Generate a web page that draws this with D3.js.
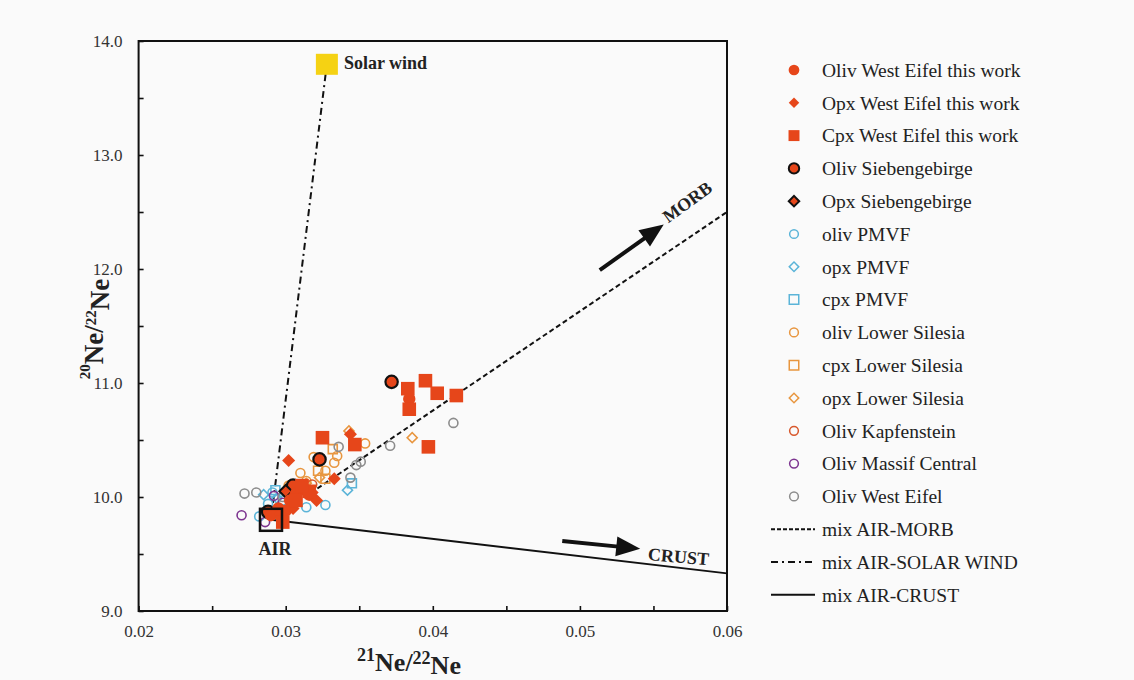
<!DOCTYPE html>
<html>
<head>
<meta charset="utf-8">
<script src="https://cdn.jsdelivr.net/npm/d3@7"></script>
<style>
  html, body { margin: 0; padding: 0; background: #fafafa; }
  svg { display: block; }
  text { font-family: "Liberation Serif", "Times New Roman", serif; }
</style>
</head>
<body>
<svg id="chart" width="1134" height="680"></svg>
<script>
// ---------- DATA ----------
const xTicks = [0.02, 0.025, 0.03, 0.035, 0.04, 0.045, 0.05, 0.055, 0.06];
const yTicks = [9, 9.5, 10, 10.5, 11, 11.5, 12, 12.5, 13, 13.5, 14];

const olivWestEifelThisWork = [[0.0384,10.86],[0.0303,9.97],[0.0300,9.88],[0.0307,10.03],[0.0312,10.07],[0.0295,9.90],[0.0290,9.84],[0.0316,10.02]];
const opxWestEifelThisWork  = [[0.0302,10.32],[0.0333,10.16],[0.0321,9.97],[0.0344,10.55],[0.0305,9.90],[0.0296,9.85],[0.0311,10.08],[0.0318,10.04]];
const cpxWestEifelThisWork  = [[0.0325,10.52],[0.0347,10.46],[0.0383,10.95],[0.0395,11.02],[0.0403,10.91],[0.0416,10.89],[0.0384,10.77],[0.0397,10.44],[0.0316,10.05],[0.0307,9.97],[0.0298,9.78],[0.0311,10.10]];
const olivSiebengebirge     = [[0.0372,11.01],[0.0323,10.33],[0.0305,10.10],[0.0288,9.87]];
const opxSiebengebirge      = [[0.0300,10.05]];
const olivPMVF              = [[0.0282,9.83],[0.0291,10.04],[0.0314,9.91],[0.0327,9.93],[0.0298,9.97],[0.0288,9.94]];
const opxPMVF               = [[0.0342,10.06],[0.0294,9.99],[0.0285,10.02]];
const cpxPMVF               = [[0.0345,10.12],[0.0293,10.06]];
const olivLowerSilesia      = [[0.0319,10.35],[0.0333,10.30],[0.0354,10.47],[0.0314,10.14],[0.0327,10.23],[0.0302,10.10],[0.0310,10.21],[0.0335,10.36]];
const cpxLowerSilesia       = [[0.0332,10.42],[0.0322,10.23],[0.0327,10.16],[0.0310,10.07]];
const opxLowerSilesia       = [[0.0343,10.58],[0.0386,10.52],[0.0323,10.17],[0.0314,10.12]];
const olivKapfenstein       = [[0.0307,10.00],[0.0302,10.05],[0.0318,10.11]];
const olivMassifCentral     = [[0.0270,9.84],[0.0286,9.78],[0.0292,10.01],[0.0298,9.95]];
const olivWestEifel         = [[0.0272,10.03],[0.0280,10.04],[0.0336,10.44],[0.0348,10.28],[0.0351,10.31],[0.0344,10.17],[0.0371,10.45],[0.0414,10.65],[0.0302,10.03],[0.0315,10.03],[0.0298,10.00]];

const airPoint   = [0.029, 9.8];
const solarWind  = [0.0328, 13.8];
const mixMORB    = [airPoint, [0.06, 12.5]];
const mixSolar   = [airPoint, solarWind];
const mixCrust   = [airPoint, [0.06, 9.33]];
const arrowMORB  = [[0.05135, 11.99], [0.0557, 12.39]];
const arrowCrust = [[0.0488, 9.615], [0.0541, 9.545]];
const morbLabelPos  = [0.0560, 12.40];
const crustLabelPos = [0.0546, 9.447];

const legendLabels = [
  "Oliv West Eifel this work","Opx West Eifel this work","Cpx West Eifel this work",
  "Oliv Siebengebirge","Opx Siebengebirge","oliv PMVF","opx PMVF","cpx PMVF",
  "oliv Lower Silesia","cpx Lower Silesia","opx Lower Silesia","Oliv Kapfenstein",
  "Oliv Massif Central","Oliv West Eifel","mix AIR-MORB","mix AIR-SOLAR WIND","mix AIR-CRUST"
];

// ---------- STYLES ----------
const RED = "#e6461a", BLUE = "#5bb4d8", ORANGE = "#e8963f", KAPF = "#d8582c", PURPLE = "#7d3590", GRAY = "#8c8c8c";

const series = [
  {data: olivLowerSilesia, shape: "circle", fill: "none", stroke: ORANGE, sw: 1.6, size: 64, lsize: 60},
  {data: cpxLowerSilesia, shape: "square", fill: "none", stroke: ORANGE, sw: 1.6, size: 80, lsize: 90},
  {data: opxLowerSilesia, shape: "diamond", fill: "none", stroke: ORANGE, sw: 1.6, size: 50, lsize: 45},
  {data: olivPMVF, shape: "circle", fill: "none", stroke: BLUE, sw: 1.6, size: 64, lsize: 60},
  {data: opxPMVF, shape: "diamond", fill: "none", stroke: BLUE, sw: 1.6, size: 50, lsize: 45},
  {data: cpxPMVF, shape: "square", fill: "none", stroke: BLUE, sw: 1.6, size: 80, lsize: 90},
  {data: olivKapfenstein, shape: "circle", fill: "none", stroke: KAPF, sw: 1.6, size: 64, lsize: 60},
  {data: olivMassifCentral, shape: "circle", fill: "none", stroke: PURPLE, sw: 1.6, size: 64, lsize: 60},
  {data: olivWestEifel, shape: "circle", fill: "none", stroke: GRAY, sw: 1.6, size: 64, lsize: 60},
  {data: olivSiebengebirge, shape: "circle", fill: RED, stroke: "#111", sw: 2.2, size: 120, lsize: 85},
  {data: opxSiebengebirge, shape: "diamond", fill: RED, stroke: "#111", sw: 2, size: 80, lsize: 55},
  {data: olivWestEifelThisWork, shape: "circle", fill: RED, stroke: "none", sw: 0, size: 120, lsize: 90},
  {data: opxWestEifelThisWork, shape: "diamond", fill: RED, stroke: "none", sw: 0, size: 85, lsize: 55},
  {data: cpxWestEifelThisWork, shape: "square", fill: RED, stroke: "none", sw: 0, size: 185, lsize: 120}
];
// legend order mapping to series index
const legendSeries = [11, 12, 13, 9, 10, 3, 4, 5, 0, 1, 2, 6, 7, 8];

// ---------- SCALES ----------
const svg = d3.select("#chart");
const M = {left: 138.6, right: 727, top: 41, bottom: 611};
const x = d3.scaleLinear().domain([0.02, 0.06]).range([M.left, M.right]);
const y = d3.scaleLinear().domain([9, 14]).range([M.bottom, M.top]);

svg.append("rect").attr("width", 1134).attr("height", 680).attr("fill", "#fafafa");

function symPath(shape, size) {
  if (shape === "circle") return d3.symbol(d3.symbolCircle, size)();
  return d3.symbol(d3.symbolSquare, size)();
}
function symTransform(shape, px, py) {
  return `translate(${px},${py})` + (shape === "diamond" ? " rotate(45)" : "");
}

// ---------- AXES ----------
const xAxis = d3.axisBottom(x).tickValues(xTicks).tickSizeInner(-5).tickSizeOuter(0).tickPadding(14)
  .tickFormat(d => (Math.round(d * 1000) % 10 === 0) ? d3.format(".2f")(d) : "");
const yAxis = d3.axisLeft(y).tickValues(yTicks).tickSizeInner(-5).tickSizeOuter(0).tickPadding(16)
  .tickFormat(d => Number.isInteger(d) ? d3.format(".1f")(d) : "");

const gx = svg.append("g").attr("transform", `translate(0,${M.bottom})`).call(xAxis);
const gy = svg.append("g").attr("transform", `translate(${M.left},0)`).call(yAxis);
[gx, gy].forEach(g => {
  g.select(".domain").remove();
  g.selectAll(".tick line").attr("stroke", "#111").attr("stroke-width", 1.6);
  g.selectAll(".tick text").attr("fill", "#333").style("font-size", "17px")
    .style("font-family", '"Liberation Serif", serif');
});

// frame
svg.append("rect").attr("x", M.left).attr("y", M.top)
  .attr("width", M.right - M.left).attr("height", M.bottom - M.top)
  .attr("fill", "none").attr("stroke", "#111").attr("stroke-width", 2);

// axis titles
const yt = svg.append("text").attr("transform", `translate(97,329) rotate(-90)`)
  .attr("text-anchor", "middle").style("font-size", "27px").style("font-weight", "bold").attr("fill", "#222");
yt.append("tspan").text("20").attr("dy", "-0.5em").style("font-size", "15px");
yt.append("tspan").text("Ne/").attr("dy", "0.5em");
yt.append("tspan").text("22").attr("dy", "-0.5em").style("font-size", "15px");
yt.append("tspan").text("Ne").attr("dy", "0.5em");

const xt = svg.append("text").attr("x", 409).attr("y", 668)
  .attr("text-anchor", "middle").style("font-size", "26px").style("font-weight", "bold").attr("fill", "#222");
xt.append("tspan").text("21").attr("dy", "-0.4em").style("font-size", "18px");
xt.append("tspan").text("Ne/").attr("dy", "0.4em");
xt.append("tspan").text("22").attr("dy", "-0.4em").style("font-size", "18px");
xt.append("tspan").text("Ne").attr("dy", "0.4em");

// ---------- MIXING LINES ----------
const line = d3.line().x(d => x(d[0])).y(d => y(d[1]));
const plot = svg.append("g");
plot.append("path").datum(mixMORB).attr("d", line).attr("fill", "none")
  .attr("stroke", "#111").attr("stroke-width", 2).attr("stroke-dasharray", "5,3");
plot.append("path").datum(mixSolar).attr("d", line).attr("fill", "none")
  .attr("stroke", "#111").attr("stroke-width", 2).attr("stroke-dasharray", "7,4,2,4");
plot.append("path").datum(mixCrust).attr("d", line).attr("fill", "none")
  .attr("stroke", "#111").attr("stroke-width", 2);

// arrows
function arrow(pts) {
  const x0 = x(pts[0][0]), y0 = y(pts[0][1]), x1 = x(pts[1][0]), y1 = y(pts[1][1]);
  const a = Math.atan2(y1 - y0, x1 - x0);
  const hl = 24, hw = 10;
  const bx = x1 - hl * Math.cos(a), by = y1 - hl * Math.sin(a);
  plot.append("line").attr("x1", x0).attr("y1", y0).attr("x2", bx + 2 * Math.cos(a)).attr("y2", by + 2 * Math.sin(a))
    .attr("stroke", "#111").attr("stroke-width", 4);
  const px = -Math.sin(a), py = Math.cos(a);
  plot.append("path").attr("d", `M${x1},${y1}L${bx + hw * px},${by + hw * py}L${bx - hw * px},${by - hw * py}Z`)
    .attr("fill", "#111");
}
arrow(arrowMORB);
arrow(arrowCrust);

// ---------- POINTS ----------
series.forEach(s => {
  plot.append("g").selectAll("path").data(s.data).join("path")
    .attr("d", symPath(s.shape, s.size))
    .attr("transform", d => symTransform(s.shape, x(d[0]), y(d[1])))
    .attr("fill", s.fill).attr("stroke", s.stroke).attr("stroke-width", s.sw);
});

// AIR box
plot.append("rect").attr("x", x(airPoint[0]) - 11).attr("y", y(airPoint[1]) - 11)
  .attr("width", 22).attr("height", 22).attr("fill", "none").attr("stroke", "#111").attr("stroke-width", 2.5);
plot.append("text").attr("x", x(airPoint[0]) + 4).attr("y", y(airPoint[1]) + 35)
  .attr("text-anchor", "middle").style("font-size", "18px").style("font-weight", "bold").attr("fill", "#222").text("AIR");

// Solar wind
plot.append("rect").attr("x", x(solarWind[0]) - 11).attr("y", y(solarWind[1]) - 10)
  .attr("width", 22).attr("height", 21).attr("fill", "#f5d213");
plot.append("text").attr("x", x(solarWind[0]) + 17).attr("y", y(solarWind[1]) + 5)
  .style("font-size", "18px").style("font-weight", "bold").attr("fill", "#222").text("Solar wind");

// MORB / CRUST labels
plot.append("text").attr("transform", `translate(${x(morbLabelPos[0])},${y(morbLabelPos[1])}) rotate(-36)`)
  .style("font-size", "18px").style("font-weight", "bold").attr("fill", "#222").text("MORB");
plot.append("text").attr("transform", `translate(${x(crustLabelPos[0])},${y(crustLabelPos[1])}) rotate(5)`)
  .style("font-size", "18px").style("font-weight", "bold").attr("fill", "#222").text("CRUST");

// ---------- LEGEND ----------
const leg = svg.append("g");
const ly0 = 70, lstep = 32.8, lmx = 794, ltx = 822;
legendLabels.forEach((lab, i) => {
  const yy = ly0 + i * lstep;
  if (i < 14) {
    const s = series[legendSeries[i]];
    leg.append("path").attr("d", symPath(s.shape, s.lsize))
      .attr("transform", symTransform(s.shape, lmx, yy))
      .attr("fill", s.fill).attr("stroke", s.stroke).attr("stroke-width", s.sw > 0 ? Math.min(s.sw, 1.5) + (s.stroke === "#111" ? 0.5 : 0) : 0);
  } else {
    const dash = i === 14 ? "4,2" : (i === 15 ? "7,4,2,4" : null);
    leg.append("line").attr("x1", 771).attr("x2", 815).attr("y1", yy).attr("y2", yy)
      .attr("stroke", "#111").attr("stroke-width", 2).attr("stroke-dasharray", dash);
  }
  leg.append("text").attr("x", ltx).attr("y", yy).attr("dy", "0.35em")
    .style("font-size", "19.5px").attr("fill", "#222").text(lab);
});
</script>
</body>
</html>
